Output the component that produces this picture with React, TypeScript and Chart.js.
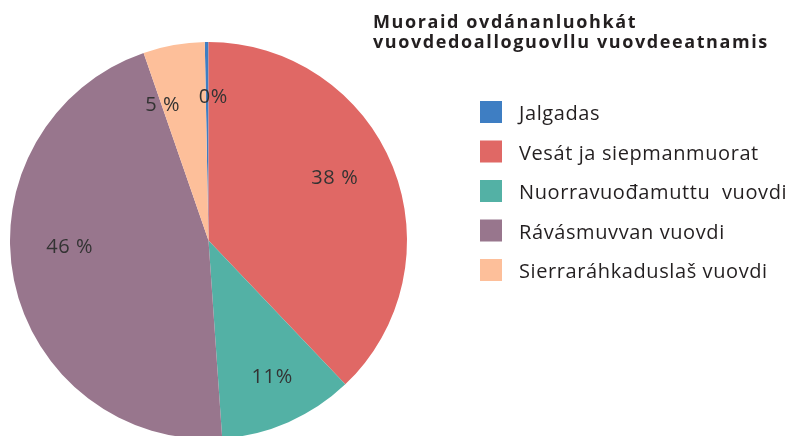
import React, { useEffect, useRef } from 'react';
import { Chart, registerables } from 'chart.js';

Chart.register(...registerables);

const categories = [
  'Jalgadas',
  'Vesát ja siepmanmuorat',
  'Nuorravuođamuttu  vuovdi',
  'Rávásmuvvan vuovdi',
  'Sierraráhkaduslaš vuovdi',
];
const shares = [0.3, 37.9, 11.0, 45.8, 5.0];
const shareLabels = ['0%', '38 %', '11%', '46 %', '5 %'];
const sliceColors = ['#3e7ec3', '#e06865', '#53b1a5', '#98768d', '#fdbf9a'];
const titleLines = ['Muoraid ovdánanluohkát', 'vuovdedoalloguovllu vuovdeeatnamis'];

// label placement tweaks (angle shift in degrees from slice middle, radius fraction)
const labelAngleShift = [2.5, -4.6, -1.2, 8.6, -8.6];
const labelRadiusFrac = [0.72, 0.71, 0.76, 0.70, 0.72];

const overlayPlugin = {
  id: 'overlay',
  afterDraw(chart: any) {
    const ctx = chart.ctx as CanvasRenderingContext2D;
    ctx.save();
    // Title
    ctx.fillStyle = '#231f20';
    ctx.font = 'bold 18px "Open Sans"';
    (ctx as any).letterSpacing = '1.6px';
    ctx.textAlign = 'left';
    ctx.textBaseline = 'alphabetic';
    ctx.fillText(titleLines[0], 373, 28);
    ctx.fillText(titleLines[1], 373, 48);

    // Legend
    const rowTops = [101, 140.5, 180, 219.5, 259];
    ctx.font = '20px "Open Sans"';
    (ctx as any).letterSpacing = '0.6px';
    categories.forEach((c, i) => {
      ctx.fillStyle = sliceColors[i];
      ctx.fillRect(480, rowTops[i], 22, 22);
      ctx.fillStyle = '#231f20';
      ctx.fillText(c, 519, rowTops[i] + 19);
    });

    // Slice labels
    const meta = chart.getDatasetMeta(0);
    ctx.font = '20px "Open Sans"';
    (ctx as any).letterSpacing = '0.6px';
    ctx.textAlign = 'center';
    ctx.textBaseline = 'middle';
    ctx.fillStyle = '#333333';
    meta.data.forEach((arc: any, i: number) => {
      const p = arc.getProps(['x', 'y', 'startAngle', 'endAngle', 'outerRadius'], true);
      const a = (p.startAngle + p.endAngle) / 2 + (labelAngleShift[i] * Math.PI) / 180;
      const r = p.outerRadius * labelRadiusFrac[i];
      ctx.fillText(shareLabels[i], p.x + Math.cos(a) * r, p.y + Math.sin(a) * r);
    });
    ctx.restore();
  },
};

export default function App() {
  const ref = useRef<HTMLCanvasElement>(null);
  useEffect(() => {
    if (!ref.current) return;
    const total = shares.reduce((s, v) => s + v, 0);
    const chart = new Chart(ref.current, {
      type: 'pie',
      data: {
        labels: categories,
        datasets: [
          {
            data: shares,
            backgroundColor: sliceColors,
            borderWidth: 0,
          },
        ],
      },
      options: {
        animation: false,
        responsive: true,
        maintainAspectRatio: false,
        rotation: -(shares[0] / total) * 360,
        layout: { padding: { left: 10, right: 380, top: 42, bottom: 11 } },
        plugins: {
          legend: { display: false },
          title: { display: false },
          tooltip: { enabled: false },
        },
      },
      plugins: [overlayPlugin],
    });
    return () => chart.destroy();
  }, []);
  return (
    <div style={{ position: 'fixed', left: 0, top: 0, width: 787, height: 436, overflow: 'hidden', background: '#fff' }}>
      <div style={{ position: 'relative', width: 787, height: 450 }}>
        <canvas ref={ref} />
      </div>
    </div>
  );
}
